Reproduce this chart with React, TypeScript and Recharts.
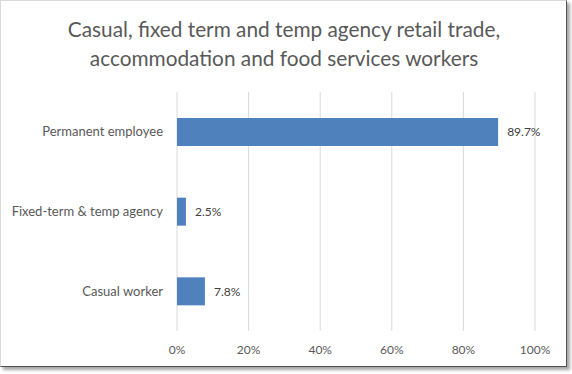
import React from "react";
import { BarChart, Bar, XAxis, YAxis, CartesianGrid, LabelList } from "recharts";

const categories = ["Permanent employee", "Fixed-term & temp agency", "Casual worker"];
const shares = [89.7, 2.5, 7.8];
const xTicks = [0, 20, 40, 60, 80, 100];
const titleLines = [
  "Casual, fixed term and temp agency retail trade,",
  "accommodation and food services workers",
];

const data = categories.map((c, i) => ({ name: c, value: shares[i] }));

const FONT = "Lato, 'Open Sans', sans-serif";

export default function App() {
  return (
    <div style={{ position: "absolute", left: 0, top: 0, width: 572, height: 374, background: "#fff" }}>
      <div
        style={{
          position: "absolute",
          left: 0,
          top: 0,
          width: 565,
          height: 365,
          borderLeft: "1px solid #d9d9d9",
          borderTop: "1px solid #d9d9d9",
          borderRight: "1px solid #505050",
          borderBottom: "1px solid #505050",
          boxShadow: "3px 3px 3px rgba(0,0,0,0.35)",
          background: "#fff",
        }}
      >
        <div
          style={{
            position: "absolute",
            left: 0,
            top: 13,
            width: 566,
            textAlign: "center",
            fontFamily: FONT,
            fontSize: 20.8,
            lineHeight: "29px",
            color: "#595959",
            whiteSpace: "nowrap",
          }}
        >
          {titleLines.map((t) => (
            <div key={t}>{t}</div>
          ))}
        </div>
        <div style={{ position: "absolute", left: 0, top: 0 }}>
          <BarChart
            width={566}
            height={366}
            data={data}
            layout="vertical"
            margin={{ top: 91, right: 32, bottom: 0, left: 0 }}
          >
            <CartesianGrid horizontal={false} vertical={true} stroke="#d9d9d9" strokeWidth={1} />
            <XAxis
              type="number"
              domain={[0, 100]}
              ticks={xTicks}
              tickFormatter={(v) => `${v}%`}
              axisLine={false}
              tickLine={false}
              tickSize={0}
              tickMargin={14}
              height={36}
              interval={0}
              tick={{ fill: "#595959", fontSize: 12, fontFamily: FONT }}
            />
            <YAxis
              type="category"
              dataKey="name"
              width={176}
              axisLine={false}
              tickLine={false}
              tickSize={0}
              tickMargin={14}
              tick={{ fill: "#595959", fontSize: 13, fontFamily: FONT }}
            />
            <Bar dataKey="value" fill="#4f81bd" barSize={28} isAnimationActive={false}>
              <LabelList
                dataKey="value"
                position="right"
                offset={9}
                formatter={(v) => `${v}%`}
                style={{ fill: "#404040", fontSize: 12, fontFamily: FONT }}
              />
            </Bar>
          </BarChart>
        </div>
      </div>
    </div>
  );
}
